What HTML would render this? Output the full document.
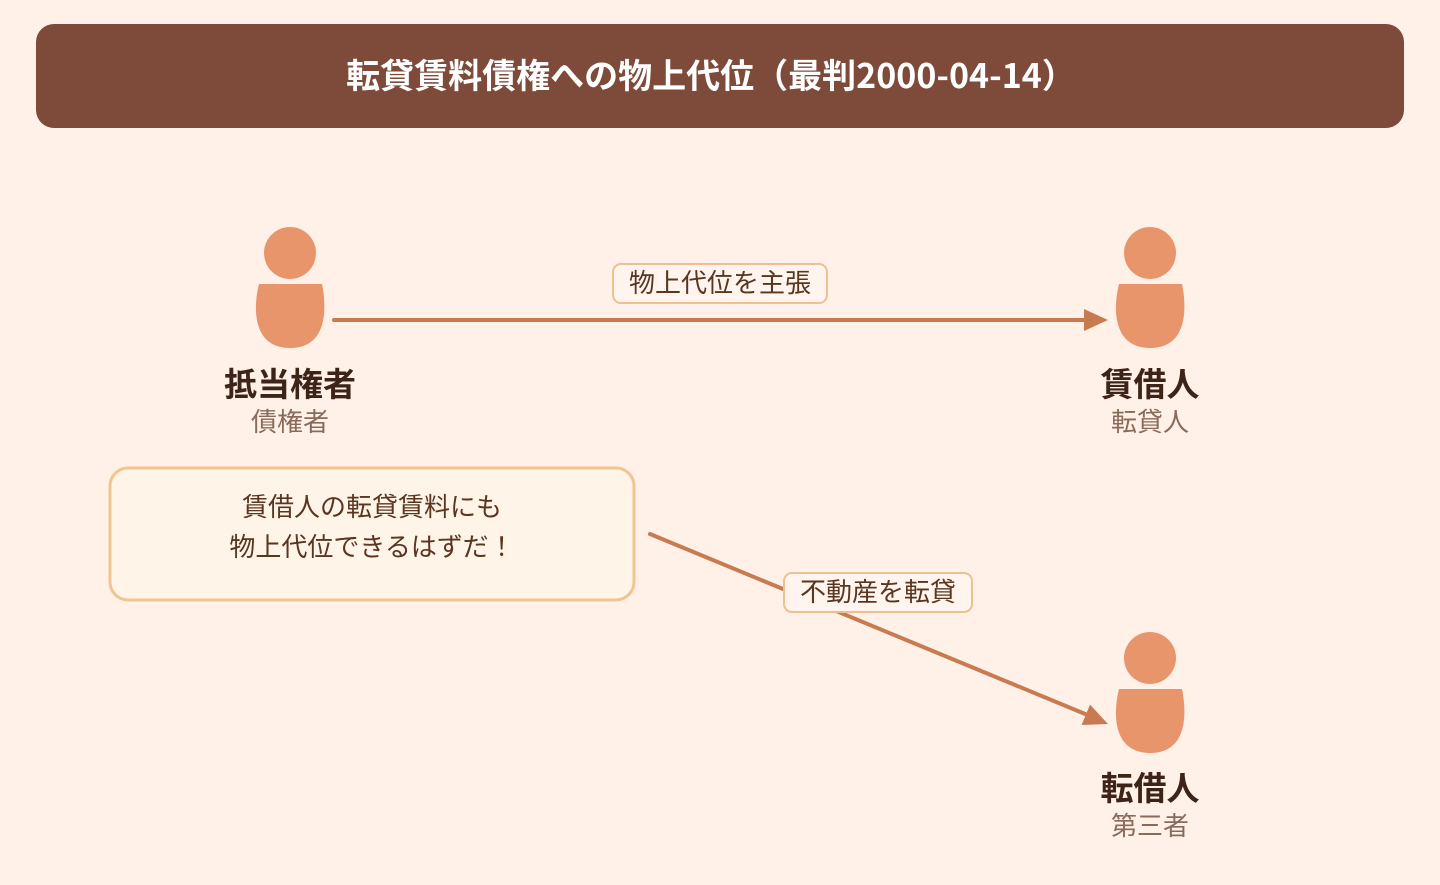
<!DOCTYPE html>
<html><head><meta charset="utf-8"><style>
html,body{margin:0;padding:0;background:#fff0e8;}
body{width:1440px;height:880px;overflow:hidden;font-family:"Noto Sans CJK JP","Liberation Sans",sans-serif;}
</style></head><body>
<svg width="1440" height="880" viewBox="0 0 1440 880" xmlns="http://www.w3.org/2000/svg" style="font-family:'Noto Sans CJK JP','Liberation Sans',sans-serif">
<rect width="1440" height="880" fill="#fff0e8"/>
<rect x="36" y="24" width="1368" height="104" rx="18" fill="#7e4a39"/>
<text x="711" y="88" text-anchor="middle" font-size="34" font-weight="bold" fill="#fff">転貸賃料債権への物上代位（最判2000-04-14）</text>
<defs>
<g id="p">
<circle cx="0" cy="0" r="26" fill="#e8956b"/>
<path d="M-31 31 L32 31 C36 50 40 95 0 95 C-40 95 -36 50 -31 31 Z" fill="#e8956b"/>
</g>
</defs>
<use href="#p" x="290" y="253"/>
<use href="#p" x="1150" y="253"/>
<use href="#p" x="1150" y="658"/>
<g fill="#3e2418" font-weight="bold" font-size="33" text-anchor="middle">
<text x="290" y="396">抵当権者</text>
<text x="1150" y="396">賃借人</text>
<text x="1150" y="800">転借人</text>
</g>
<g fill="#8a6a5a" font-size="26" text-anchor="middle">
<text x="290" y="431">債権者</text>
<text x="1150" y="431">転貸人</text>
<text x="1150" y="835">第三者</text>
</g>
<line x1="334" y1="320" x2="1088" y2="320" stroke="#c87b50" stroke-width="4" stroke-linecap="round"/>
<polygon points="1108,320 1084,309 1084,331" fill="#c87b50"/>
<line x1="650" y1="534" x2="1090" y2="716" stroke="#c87b50" stroke-width="4" stroke-linecap="round"/>
<polygon points="1108,724 1081.6,725 1090,704.6" fill="#c87b50"/>
<rect x="613" y="264" width="214" height="39" rx="8" fill="#fff5ee" stroke="#ecc090" stroke-width="2"/>
<text x="720" y="292" text-anchor="middle" font-size="26" fill="#5a3520">物上代位を主張</text>
<rect x="784" y="573" width="188" height="39" rx="8" fill="#fff5ee" stroke="#ecc090" stroke-width="2"/>
<text x="878" y="601" text-anchor="middle" font-size="26" fill="#5a3520">不動産を転貸</text>
<rect x="110" y="468" width="524" height="132" rx="18" fill="#fff4e8" stroke="#f0c590" stroke-width="3"/>
<text x="372" y="516" text-anchor="middle" font-size="26" fill="#5a3520">賃借人の転貸賃料にも</text>
<text x="372" y="556" text-anchor="middle" font-size="26" fill="#5a3520">物上代位できるはずだ！</text>
</svg>
</body></html>
